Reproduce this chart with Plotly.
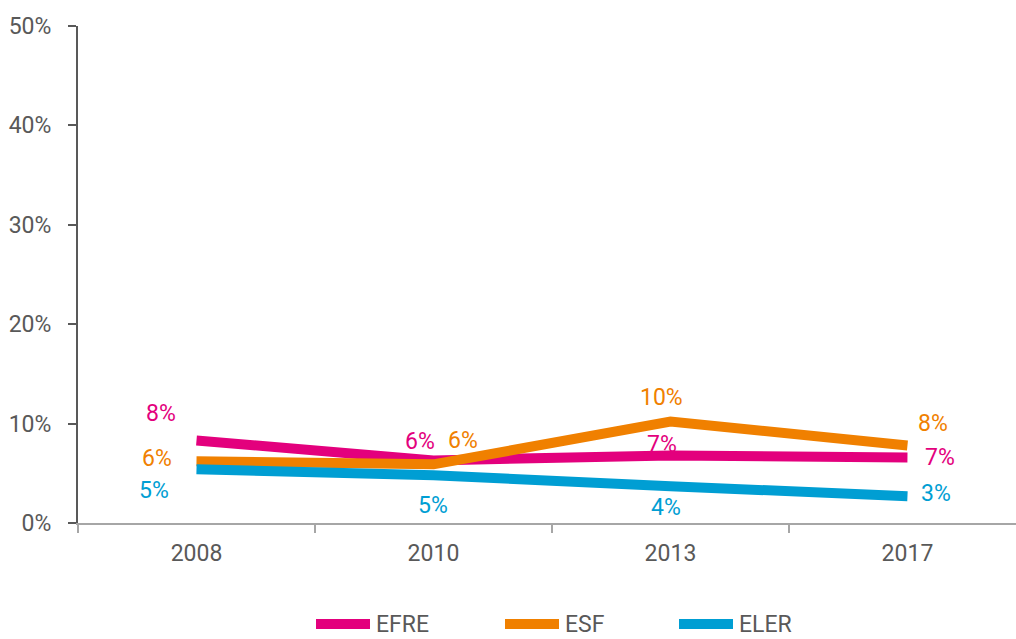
import plotly.graph_objects as go

# ---------------- data ----------------
YEARS = ["2008", "2010", "2013", "2017"]
SERIES = ["EFRE", "ESF", "ELER"]
EFRE = [0.083, 0.063, 0.068, 0.066]
ESF = [0.062, 0.059, 0.102, 0.078]
ELER = [0.054, 0.048, 0.037, 0.027]
Y_TICKS = [0.0, 0.1, 0.2, 0.3, 0.4, 0.5]
Y_TICK_LABELS = ["0%", "10%", "20%", "30%", "40%", "50%"]

VALUES = {"EFRE": EFRE, "ESF": ESF, "ELER": ELER}

# ---------------- style ----------------
COLORS = {"EFRE": "#E3007D", "ESF": "#F08000", "ELER": "#009ED3"}
FONT = "Liberation Sans Narrow, Roboto, sans-serif"
FS = 23
GRAY = "#595959"
# label offsets in px (dx right, dy up) relative to each point
LABEL_OFFSETS = {
    "EFRE": [(-35, 27), (-13, 19), (-8, 11), (33, 0)],
    "ESF": [(-39, 3), (30, 24), (-9, 24), (26, 22)],
    "ELER": [(-42, -21), (0, -30), (-4, -21), (29, 3)],
}
# legend item start positions (px) and vertical center (px)
LEGEND_PX = {"EFRE": 313, "ESF": 502, "ELER": 676}
LEGEND_Y_PX = 624

W, H = 1016, 639
ML, MR, MT, MB = 78, 0, 26, 116
PW, PH = W - ML - MR, H - MT - MB


def px_to_paper_x(px):
    return (px - ML) / PW


def px_to_paper_y(py):
    return (H - MB - py) / PH


fig = go.Figure()
for name in SERIES:
    fig.add_trace(go.Scatter(
        x=YEARS, y=VALUES[name], name=name, mode="lines",
        line=dict(color=COLORS[name], width=10),
        showlegend=False, cliponaxis=False,
    ))

annotations = []
for name in SERIES:
    for i, v in enumerate(VALUES[name]):
        dx, dy = LABEL_OFFSETS[name][i]
        annotations.append(dict(
            x=i, y=v, xref="x", yref="y", text=f"{v:.0%}",
            showarrow=False, xshift=dx, yshift=dy,
            font=dict(family=FONT, size=FS, color=COLORS[name]),
        ))

shapes = []
for name in SERIES:
    x0 = LEGEND_PX[name]
    yp = px_to_paper_y(LEGEND_Y_PX)
    shapes.append(dict(
        type="line", xref="paper", yref="paper",
        x0=px_to_paper_x(x0 + 3), x1=px_to_paper_x(x0 + 57), y0=yp, y1=yp,
        line=dict(color=COLORS[name], width=10),
    ))
    annotations.append(dict(
        x=px_to_paper_x(x0 + 61), y=yp, xref="paper", yref="paper",
        xanchor="left", yanchor="middle", text=name, showarrow=False,
        font=dict(family=FONT, size=FS, color=GRAY),
    ))

fig.update_layout(
    width=W, height=H,
    margin=dict(l=ML, r=MR, t=MT, b=MB, pad=0),
    plot_bgcolor="white", paper_bgcolor="white",
    font=dict(family=FONT, size=FS, color=GRAY),
    showlegend=False,
    annotations=annotations,
    shapes=shapes,
    xaxis=dict(
        type="category", range=[-0.5, 3.458], showgrid=False, zeroline=False,
        showline=True, linecolor="#A6A6A6", linewidth=2,
        ticks="outside", tickson="boundaries", ticklen=8, tickcolor="#A6A6A6", tickwidth=2,
        ticklabelstandoff=8,
        tickfont=dict(family=FONT, size=FS, color=GRAY),
    ),
    yaxis=dict(
        range=[0, 0.5], tickvals=Y_TICKS, ticktext=Y_TICK_LABELS,
        showgrid=False, zeroline=False,
        showline=True, linecolor=GRAY, linewidth=2,
        ticks="outside", ticklen=8, tickcolor=GRAY, tickwidth=2,
        ticklabelstandoff=12,
        tickfont=dict(family=FONT, size=FS, color=GRAY),
    ),
)

fig.write_html(
    "out.html",
    config={"displayModeBar": False},
    post_script="document.body.style.margin='0';document.body.style.overflow='hidden';",
)
